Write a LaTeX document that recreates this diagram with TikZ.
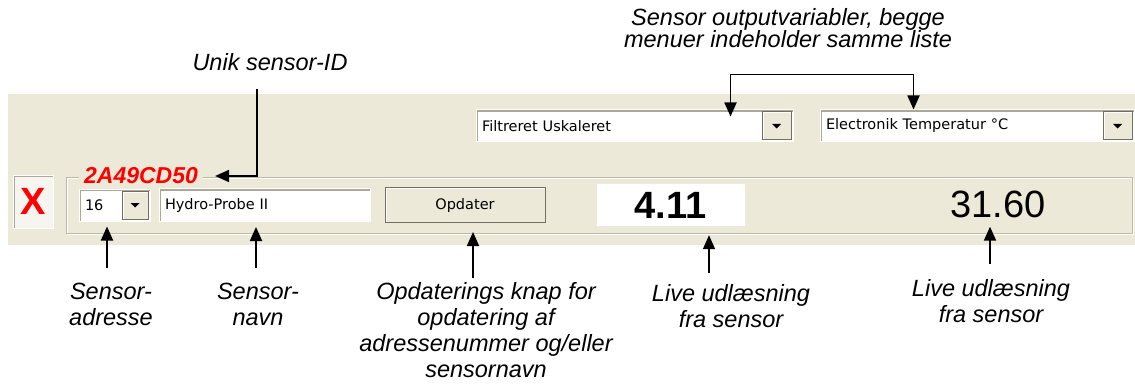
\documentclass[tikz,border=0pt]{standalone}
\usepackage{fontspec}
\setmainfont{Liberation Sans}
\newfontfamily\uifont{DejaVu Sans}
\usetikzlibrary{arrows.meta, positioning, calc}
\definecolor{panel}{RGB}{236,233,216}
\definecolor{ctlshadow}{RGB}{172,168,153}
\definecolor{ctldark}{RGB}{113,111,100}
\definecolor{framegray}{RGB}{190,186,170}
\definecolor{xfill}{RGB}{246,245,239}
\definecolor{idred}{RGB}{255,0,0}
\tikzset{
  field/.style={rectangle, fill=white, draw=white, line width=1pt, inner sep=0pt,
                inner xsep=6pt, align=left, font=\uifont\fontsize{14.5}{17}\selectfont,
                path picture={\draw[ctlshadow, line width=4pt]
                  (path picture bounding box.south west) |- (path picture bounding box.north east);}},
  raised/.style={rectangle, fill=panel, draw=ctldark, line width=1pt, inner sep=0pt,
                 font=\uifont\fontsize{14.5}{17}\selectfont,
                 path picture={\draw[white, line width=3pt]
                   (path picture bounding box.south west) |- (path picture bounding box.north east);}},
  lbl/.style={font=\itshape\fontsize{23.5}{26}\selectfont, align=center, inner sep=0pt},
  arrow/.style={-{Triangle[length=14pt, width=12pt]}, line width=1.8pt},
  dblarrow/.style={{Triangle[length=14pt, width=12pt]}-{Triangle[length=14pt, width=12pt]},
                   line width=1.8pt},
}
\newcommand{\ddarrow}[1]{\fill ([xshift=-4.5pt,yshift=2pt]#1.center) -- ++(9,0) -- ++(-4.5,4.5) -- cycle;}

\begin{document}
\begin{tikzpicture}[x=1pt, y=-1pt]
  \useasboundingbox (0,0) rectangle (1135,385);

  % Panel
  \fill[panel] (8,94) rectangle (1135,245);

  % Group frame
  \draw[white, line width=1pt] (67,178) rectangle (1133,234);
  \draw[framegray, line width=1pt] (66,177) rectangle (1132,233);

  % Output menus
  \node[field, text width=305pt, minimum height=32pt] (dd1) at (634.5,126) {Filtreret Uskaleret};
  \node[raised, minimum width=29pt, minimum height=28pt, anchor=east] (dd1btn)
    at ([xshift=-2pt]dd1.east) {};
  \ddarrow{dd1btn}
  \node[field, text width=302pt, minimum height=32pt, right=26pt of dd1] (dd2)
    {Electronik Temperatur \textdegree C};
  \node[raised, minimum width=29pt, minimum height=28pt, anchor=east] (dd2btn)
    at ([xshift=-2pt]dd2.east) {};
  \ddarrow{dd2btn}

  % Sensor row
  \node[field, text width=59pt, minimum height=32pt] (addr) at (114.5,205) {16};
  \node[raised, minimum width=26pt, minimum height=28pt, anchor=east] (addrbtn)
    at ([xshift=-2pt]addr.east) {};
  \ddarrow{addrbtn}
  \node[field, text width=199pt, minimum height=33pt, right=8pt of addr] (name) {Hydro-Probe II};
  \node[raised, minimum width=160pt, minimum height=35pt, right=14pt of name] (opd) {Opdater};
  \node[rectangle, fill=white, minimum width=148pt, minimum height=42pt, inner sep=0pt,
        font=\bfseries\fontsize{38}{40}\selectfont, right=51pt of opd] (val) {4.11};
  \node[inner sep=0pt, font=\fontsize{38}{40}\selectfont] (val2) at (998,204) {31.60};

  % Remove button
  \node[field, align=center, inner xsep=0pt, fill=xfill, minimum width=40pt, minimum height=53pt,
        font=\bfseries\fontsize{38}{40}\selectfont, text=idred] (xbox) at (33,201.5) {X};

  % Sensor ID
  \node[font=\bfseries\itshape\fontsize{23}{25}\selectfont, text=idred, fill=panel,
        inner xsep=5pt, inner ysep=0pt] (idcap) at (141,176) {2A49CD50};

  % Labels
  \node[lbl] (idlbl) at (270,62) {Unik sensor-ID};
  \node[lbl, anchor=north, font={\itshape\fontsize{23.5}{22.5}\selectfont\lineskiplimit=-20pt}]
    (outlbl) at (788,8) {Sensor outputvariabler, begge\\menuer indeholder samme liste};
  \node[lbl, anchor=north] (adrlbl) at (111,283) {Sensor-\\adresse};
  \node[lbl, anchor=north] (navnlbl) at (258,283) {Sensor-\\navn};
  \node[lbl, anchor=north] (opdlbl) at (486,282)
    {Opdaterings knap for\\opdatering af\\adressenummer og/eller\\sensornavn};
  \node[lbl, anchor=north] (live1lbl) at (731,284) {Live udl\ae sning\\fra sensor};
  \node[lbl, anchor=north] (live2lbl) at (991,279) {Live udl\ae sning\\fra sensor};

  % Arrows
  \draw[arrow, shorten <=18pt, shorten >=12pt] ([xshift=-13pt]idlbl.south) |- (idcap.east);
  \draw[dblarrow] ([xshift=-63pt,yshift=-7pt]dd1.north east) -- ++(0,-42)
    -| ([xshift=94pt]dd2.north west);
  \draw[arrow, shorten <=15pt, shorten >=5pt] ([xshift=-4pt]adrlbl.north)
    -- ([xshift=-4pt]adrlbl.north |- addr.south);
  \draw[arrow, shorten <=15pt, shorten >=5pt] ([xshift=-2pt]navnlbl.north)
    -- ([xshift=-2pt]navnlbl.north |- name.south);
  \draw[arrow, shorten <=4pt, shorten >=9pt] ([xshift=-13pt]opdlbl.north)
    -- ([xshift=-13pt]opdlbl.north |- opd.south);
  \draw[arrow, shorten <=11pt, shorten >=9pt] ([xshift=-22pt]live1lbl.north)
    -- ([xshift=-22pt]live1lbl.north |- val.south);
  \draw[arrow, shorten <=15pt, shorten >=9pt] ([xshift=-1pt]live2lbl.north)
    -- ([xshift=-1pt]live2lbl.north |- val2.south);
\end{tikzpicture}
\end{document}
